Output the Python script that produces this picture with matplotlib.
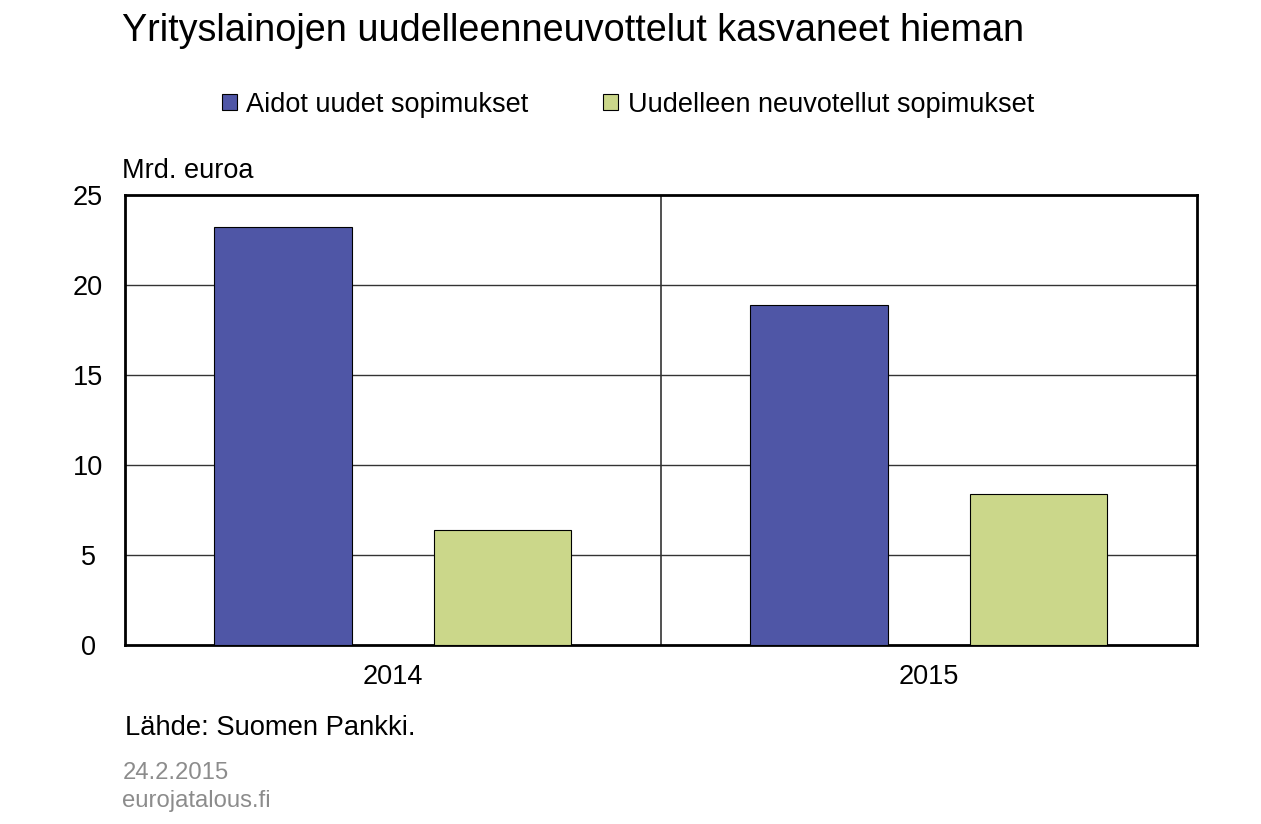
import numpy as np
import matplotlib.pyplot as plt

years = ["2014", "2015"]
aidot = [23.2, 18.9]
uudelleen = [6.4, 8.4]
series_names = ["Aidot uudet sopimukset", "Uudelleen neuvotellut sopimukset"]

plt.rcParams["font.family"] = ["Liberation Sans", "DejaVu Sans"]

fig = plt.figure(figsize=(12.61, 8.24), dpi=100)
ax = fig.add_axes([0.0991, 0.2172, 0.8501, 0.5461])

x = np.arange(len(years))
w = 0.256
b1 = ax.bar(x - 0.205, aidot, w, color="#4F56A6", edgecolor="black", linewidth=0.8, zorder=3)
b2 = ax.bar(x + 0.205, uudelleen, w, color="#CBD78A", edgecolor="black", linewidth=0.8, zorder=3)

ax.set_xlim(-0.5, 1.5)
ax.set_ylim(0, 25)
ax.set_yticks([0, 5, 10, 15, 20, 25])
ax.set_xticks(x)
ax.set_xticklabels(years)
ax.tick_params(length=0, labelsize=19.5)
ax.tick_params(axis="x", pad=14)
ax.tick_params(axis="y", pad=26.5)
for lab in ax.get_yticklabels():
    lab.set_horizontalalignment("center")

# grid
for yv in [5, 10, 15, 20]:
    ax.axhline(yv, color="#333333", linewidth=1, zorder=1)
ax.axvline(0.5, color="#333333", linewidth=1.2, zorder=1)
for s in ax.spines.values():
    s.set_linewidth(2)

fig.text(0.097, 0.962, "Yrityslainojen uudelleenneuvottelut kasvaneet hieman",
         fontsize=27.2, va="center", ha="left")
fig.text(0.097, 0.793, "Mrd. euroa", fontsize=19.5, va="center", ha="left")
fig.text(0.099, 0.116, "Lähde: Suomen Pankki.", fontsize=19.7, va="center", ha="left")
fig.text(0.097, 0.062, "24.2.2015", fontsize=17.2, color="#8C8C8C", va="center", ha="left")
fig.text(0.097, 0.028, "eurojatalous.fi", fontsize=17.2, color="#8C8C8C", va="center", ha="left")

fig.legend([b1, b2], series_names, loc="center", bbox_to_anchor=(0.498, 0.873),
           ncol=2, frameon=False, fontsize=19.5, handlelength=0.55, handleheight=0.55,
           handletextpad=0.35, columnspacing=2.75)

fig.savefig("out.png", dpi=100)
